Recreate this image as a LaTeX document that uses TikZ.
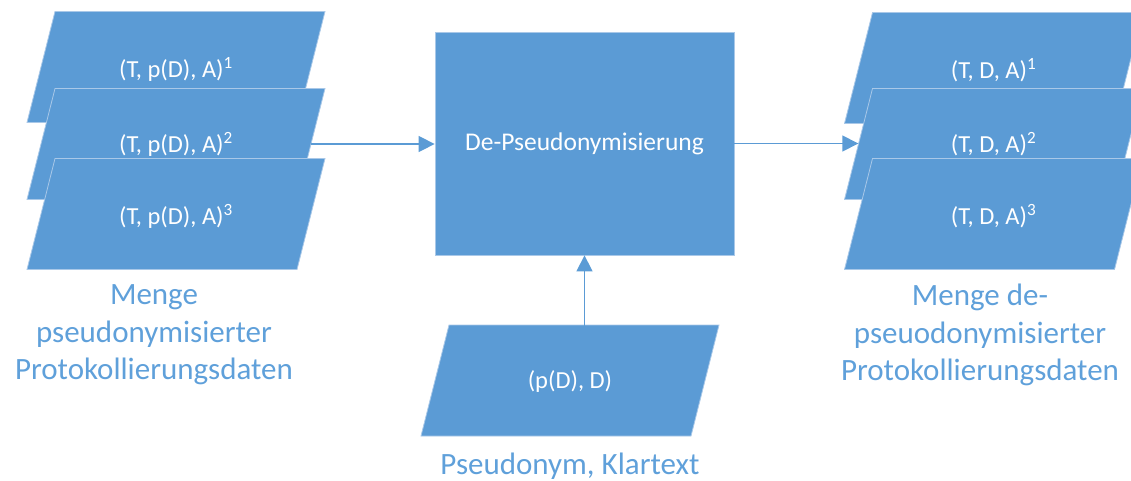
\documentclass[tikz,border=0pt]{standalone}
\usepackage{fontspec}
\setmainfont{Carlito}
\usetikzlibrary{arrows.meta}
\definecolor{pgblue}{HTML}{5B9BD5}
\definecolor{pgedge}{HTML}{A9C8E8}
\definecolor{lblblue}{HTML}{5FA0DA}
\newcommand\mypgram[2]{\fill[pgshape] ({#1-121},{#2-55.5}) -- ({#1+149},{#2-55.5}) -- ({#1+121},{#2+55.5}) -- ({#1-149},{#2+55.5}) -- cycle;}
\begin{document}
\begin{tikzpicture}[x=1pt,y=-1pt,
  pgshape/.style={fill=pgblue, draw=pgedge, line width=0.8pt},
  intext/.style={text=white, font=\fontsize{24.5}{28}\selectfont, minimum width=270pt, minimum height=111pt, inner sep=0pt},
  boxnode/.style={fill=pgblue, draw=pgedge, line width=0.8pt, text=white, font=\fontsize{25.5}{28}\selectfont, minimum width=299pt, minimum height=223pt, inner sep=0pt},
  lbl/.style={text=lblblue, font=\fontsize{31}{37.5}\selectfont, align=center},
  arr/.style={draw=pgblue, line width=1.5pt, -{Triangle[length=16pt,width=16pt]}}]
\useasboundingbox (0,0) rectangle (1131,480);
% left stack
\mypgram{176}{67}
\node[intext] (L1) at (176,69) {(T, p(D), A)\textsuperscript{1}};
\mypgram{176}{144}
\node[intext] (L2) at (176,144) {(T, p(D), A)\textsuperscript{2}};
\mypgram{176}{214}
\node[intext] (L3) at (176,216) {(T, p(D), A)\textsuperscript{3}};
% right stack
\mypgram{993.5}{68}
\node[intext] (R1) at (993.5,70) {(T, D, A)\textsuperscript{1}};
\mypgram{993.5}{144}
\node[intext] (R2) at (993.5,144) {(T, D, A)\textsuperscript{2}};
\mypgram{993.5}{214}
\node[intext] (R3) at (993.5,216) {(T, D, A)\textsuperscript{3}};
% centre box
\node[boxnode] (dp) at (584.5,143.5) {De-Pseudonymisierung};
% bottom input
\mypgram{570}{380.5}
\node[intext] (pk) at (570,382) {(p(D), D)};
% labels
\node[lbl] (lblL) at (154,335) {Menge\\pseudonymisierter\\Protokollierungsdaten};
\node[lbl] (lblR) at (980,335) {Menge de-\\pseuodonymisierter\\Protokollierungsdaten};
\node[lbl] (lblB) at (570,466) {Pseudonym, Klartext};
% connectors
\draw[arr] (L2.east) -- (L2.east -| dp.west);
\draw[arr] (dp.east) -- (dp.east -| R2.west);
\draw[arr] (pk.north -| dp.south) -- (dp.south);
\end{tikzpicture}
\end{document}
